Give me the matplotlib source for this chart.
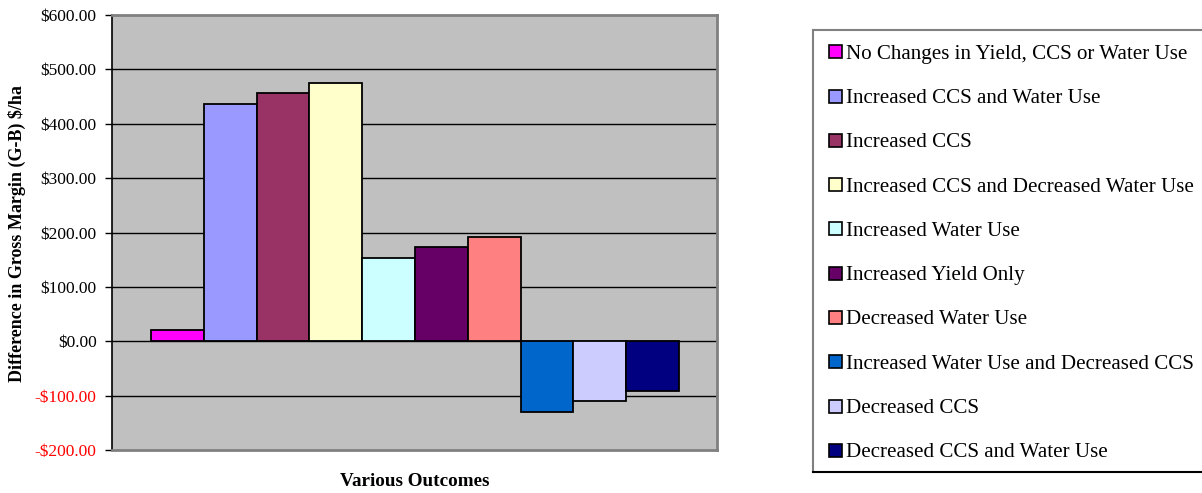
import matplotlib
matplotlib.use("Agg")
import matplotlib.pyplot as plt
from matplotlib.patches import Rectangle
from matplotlib.lines import Line2D
from matplotlib.ticker import FuncFormatter

# Outcome categories and the change in gross margin ($/ha) for each
outcomes = [
    "No Changes in Yield, CCS or Water Use",
    "Increased CCS and Water Use",
    "Increased CCS",
    "Increased CCS and Decreased Water Use",
    "Increased Water Use",
    "Increased Yield Only",
    "Decreased Water Use",
    "Increased Water Use and Decreased CCS",
    "Decreased CCS",
    "Decreased CCS and Water Use",
]
margin_diff = [21, 437, 456, 475, 153, 173, 191, -130, -110, -91]
bar_colors = [
    "#FF00FF", "#9999FF", "#993366", "#FFFFCC", "#CCFFFF",
    "#660066", "#FF8080", "#0066CC", "#CCCCFF", "#000080",
]
y_ticks = [-200, -100, 0, 100, 200, 300, 400, 500, 600]

SERIF = ["Liberation Serif", "DejaVu Serif"]
plt.rcParams["font.family"] = SERIF

W, H = 1202, 493
fig = plt.figure(figsize=(W / 100, H / 100), dpi=100)
fig.patch.set_facecolor("white")

ax_left, ax_right, ax_top, ax_bot = 112, 717, 15, 450
ax = fig.add_axes([ax_left / W, 1 - ax_bot / H, (ax_right - ax_left) / W,
                   (ax_bot - ax_top) / H])
ax.set_facecolor("#C0C0C0")

positions = list(range(len(margin_diff)))
ax.bar(positions, margin_diff, width=1.0, color=bar_colors,
       edgecolor="black", linewidth=1.3, zorder=3)

ax.set_xlim(-1.24, 10.22)
ax.set_ylim(-200, 600)
ax.set_yticks(y_ticks)
ax.set_xticks([])

def money(v, _pos):
    return f"-${abs(v):,.2f}" if v < 0 else f"${v:,.2f}"

ax.yaxis.set_major_formatter(FuncFormatter(money))
ax.tick_params(axis="y", direction="out", length=5, width=1, pad=6,
               labelsize=12.5, colors="black")
for lbl, v in zip(ax.get_yticklabels(), y_ticks):
    lbl.set_color("red" if v < 0 else "black")

for v in y_ticks[1:-1]:
    ax.axhline(v, color="black", linewidth=1.0, zorder=1)

for side in ("top", "right", "bottom"):
    ax.spines[side].set_color("#808080")
    ax.spines[side].set_linewidth(2)
ax.spines["left"].set_color("black")
ax.spines["left"].set_linewidth(1.2)

fig.text(17 / W, 1 - 234 / H, "Difference in Gross Margin (G-B) $/ha",
         rotation=90, ha="center", va="center", fontsize=13,
         fontweight="bold")
fig.text((ax_left + ax_right) / 2 / W, 1 - 481 / H, "Various Outcomes",
         ha="center", va="center", fontsize=13.8, fontweight="bold")

# Legend panel
lg_left, lg_top, lg_right, lg_bot = 813, 29.5, 1205, 472
fig.add_artist(Line2D([lg_left / W, lg_left / W],
                      [1 - lg_top / H, 1 - lg_bot / H],
                      transform=fig.transFigure, color="#808080", lw=1.5))
fig.add_artist(Line2D([lg_left / W, lg_right / W],
                      [1 - lg_top / H, 1 - lg_top / H],
                      transform=fig.transFigure, color="#808080", lw=1.5))
fig.add_artist(Line2D([lg_left / W, lg_right / W],
                      [1 - lg_bot / H, 1 - lg_bot / H],
                      transform=fig.transFigure, color="black", lw=1.5))

row0, row_step = 51.7, 44.3
sq = 13
for i, (name, col) in enumerate(zip(outcomes, bar_colors)):
    yc = row0 + i * row_step
    fig.add_artist(Rectangle((828.5 / W, 1 - (yc + sq / 2) / H), sq / W, sq / H,
                             transform=fig.transFigure, facecolor=col,
                             edgecolor="black", linewidth=1.2))
    fig.text(846.5 / W, 1 - yc / H, name, ha="left", va="center_baseline",
             fontsize=15.1, color="black")

fig.savefig("out.png", dpi=100)
